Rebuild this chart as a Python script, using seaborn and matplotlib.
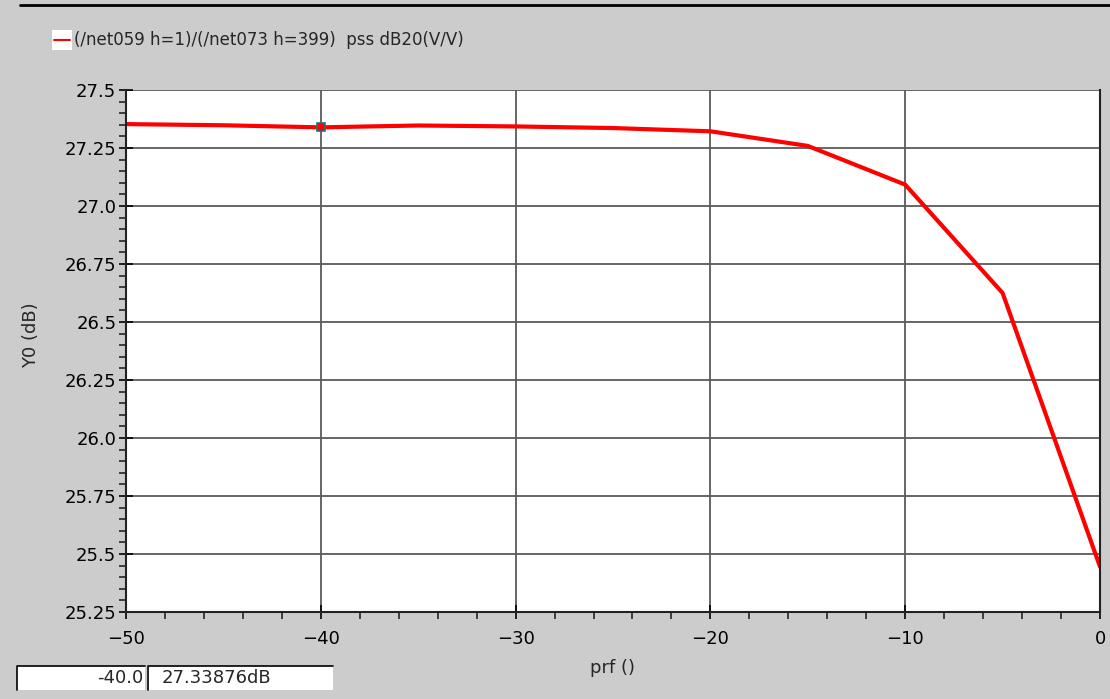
import numpy as np
import pandas as pd
import matplotlib
matplotlib.use('Agg')
import matplotlib.pyplot as plt
from matplotlib.ticker import MultipleLocator
import seaborn as sns

# values
prf = [-50, -45, -40, -35, -30, -25, -20, -15, -10, -5, 0]
y0_db = [27.353, 27.348, 27.339, 27.347, 27.343, 27.336, 27.322, 27.259, 27.092, 26.625, 25.445]
trace_label = '(/net059 h=1)/(/net073 h=399)  pss dB20(V/V)'
marker_x = -40.0
marker_y = 27.33876

df = pd.DataFrame({'prf': prf, 'y0': y0_db})

sns.set_style('white')
plt.rcParams['font.family'] = ['DejaVu Sans']

bg = '#cccccc'
fig = plt.figure(figsize=(11.1, 6.99), dpi=100, facecolor=bg)
ax = fig.add_axes([126 / 1110, 1 - 612 / 699, (1100 - 126) / 1110, (612 - 90) / 699])
ax.set_facecolor('white')

sns.lineplot(data=df, x='prf', y='y0', color='red', linewidth=3, ax=ax, legend=False)
ax.plot([marker_x], [marker_y], marker='s', markersize=6, markerfacecolor='red',
        markeredgecolor='#2a6f80', markeredgewidth=1.2, zorder=5)

ax.set_xlim(-50, 0)
ax.set_ylim(25.25, 27.5)
ax.xaxis.set_major_locator(MultipleLocator(10))
ax.xaxis.set_minor_locator(MultipleLocator(2))
ax.yaxis.set_minor_locator(MultipleLocator(0.05))
ax.set_yticks([25.25, 25.5, 25.75, 26.0, 26.25, 26.5, 26.75, 27.0, 27.25, 27.5])
ax.set_yticklabels(['25.25', '25.5', '25.75', '26.0', '26.25', '26.5', '26.75', '27.0', '27.25', '27.5'])
ax.grid(True, which='major', color='#5a5a5a', linewidth=1.3)
ax.tick_params(which='major', direction='inout', length=10, width=1.2, labelsize=13,
               colors='black', left=True, bottom=True)
ax.tick_params(axis='y', which='major', pad=2)
ax.tick_params(axis='x', which='major', pad=8)
ax.tick_params(which='minor', direction='out', length=5, width=1.2, left=True, bottom=True)
for side in ['left', 'bottom', 'right']:
    ax.spines[side].set_color('#222222')
    ax.spines[side].set_linewidth(1.5)
ax.spines['top'].set_visible(False)
ax.set_xlabel('prf ()', fontsize=13, labelpad=8)
ax.set_ylabel('Y0 (dB)', fontsize=13)
ax.yaxis.set_label_coords(-0.088, 0.53)

# top black rule
fig.add_artist(plt.Line2D([20 / 1110, 1.0], [1 - 5 / 699, 1 - 5 / 699], color='black', linewidth=2))

# legend above the axes
fig.add_artist(plt.Rectangle((52 / 1110, 1 - 50 / 699), 20 / 1110, 20 / 699, facecolor='white',
                             edgecolor='none', transform=fig.transFigure))
fig.add_artist(plt.Line2D([54 / 1110, 70 / 1110], [1 - 40 / 699, 1 - 40 / 699], color='red', linewidth=1.5))
fig.text(74 / 1110, 1 - 40 / 699, trace_label, fontsize=12, va='center', ha='left')

# marker readout boxes
fig.add_artist(plt.Rectangle((17 / 1110, 1 - 690 / 699), 128 / 1110, 24 / 699, facecolor='white',
                             edgecolor='none', transform=fig.transFigure))
fig.add_artist(plt.Rectangle((147 / 1110, 1 - 690 / 699), 186 / 1110, 24 / 699, facecolor='white',
                             edgecolor='none', transform=fig.transFigure))
fig.add_artist(plt.Line2D([17 / 1110, 17 / 1110, 145 / 1110], [1 - 690 / 699, 1 - 666 / 699, 1 - 666 / 699],
                          color='black', linewidth=1.2))
fig.add_artist(plt.Line2D([148 / 1110, 148 / 1110, 333 / 1110], [1 - 690 / 699, 1 - 666 / 699, 1 - 666 / 699],
                          color='black', linewidth=1.2))
fig.text(143 / 1110, 1 - 678 / 699, f'{marker_x:.1f}', fontsize=13, ha='right', va='center')
fig.text(162 / 1110, 1 - 678 / 699, f'{marker_y:.5f}dB', fontsize=13, ha='left', va='center')

fig.savefig('out.png', dpi=100, facecolor=bg)
